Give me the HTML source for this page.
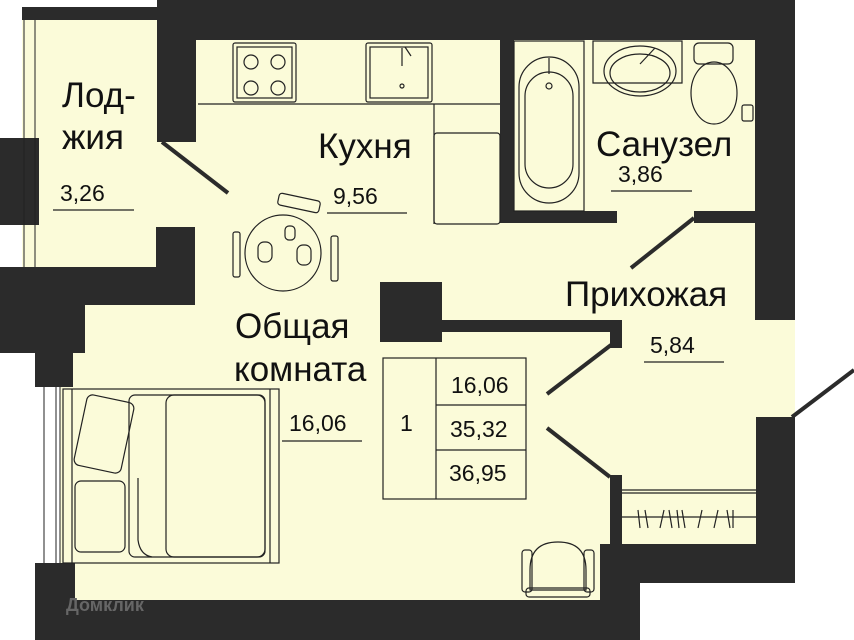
<!DOCTYPE html>
<html><head><meta charset="utf-8"><style>
html,body{margin:0;padding:0;background:#fff}
svg{display:block}
text{font-family:"Liberation Sans",sans-serif;fill:#111}
</style></head><body>
<svg width="854" height="640" viewBox="0 0 854 640" xmlns="http://www.w3.org/2000/svg">
<rect width="854" height="640" fill="#fff"/>
<!-- floors -->
<g fill="#fbfbd9">
<rect x="22" y="20" width="140" height="250"/>
<rect x="150" y="38" width="610" height="190"/>
<rect x="60" y="300" width="560" height="302"/>
<rect x="430" y="215" width="365" height="332"/>
<rect x="190" y="220" width="260" height="90"/>
</g>
<!-- walls -->
<g fill="#2b2b2b">
<rect x="22" y="7" width="140" height="13"/>
<rect x="157" y="0" width="638" height="40"/>
<rect x="157" y="0" width="39" height="142"/>
<rect x="755" y="0" width="40" height="320"/>
<rect x="0" y="138" width="39" height="87"/>
<rect x="156" y="227" width="39" height="42"/>
<rect x="0" y="267" width="195" height="38"/>
<rect x="0" y="267" width="85" height="86"/>
<rect x="35" y="353" width="38" height="34"/>
<rect x="380" y="282" width="62" height="60"/>
<rect x="380" y="320" width="242" height="12"/>
<rect x="610" y="320" width="12" height="28"/>
<rect x="500" y="40" width="14" height="183"/>
<rect x="500" y="211" width="117" height="12"/>
<rect x="694" y="211" width="73" height="12"/>
<rect x="610" y="475" width="12" height="75"/>
<rect x="756" y="417" width="39" height="166"/>
<rect x="600" y="544" width="195" height="39"/>
<rect x="600" y="544" width="40" height="96"/>
<rect x="35" y="600" width="605" height="40"/>
<rect x="35" y="563" width="40" height="77"/>
</g>
<!-- window strips -->
<g stroke="#222" stroke-width="1" fill="none">
<line x1="24" y1="20" x2="24" y2="267"/><line x1="35" y1="20" x2="35" y2="267"/>
<line x1="44" y1="387" x2="44" y2="563"/><line x1="56" y1="387" x2="56" y2="563"/><line x1="60" y1="387" x2="60" y2="563"/>
</g>
<!-- doors -->
<g stroke="#2b2b2b" stroke-width="4" stroke-linecap="butt">
<line x1="162" y1="142" x2="228" y2="193"/>
<line x1="694" y1="218" x2="631" y2="268"/>
<line x1="611" y1="345" x2="547" y2="394"/>
<line x1="547" y1="428" x2="610" y2="477"/>
<line x1="792" y1="417" x2="854" y2="370"/>
</g>
<!-- furniture -->
<g stroke="#222" stroke-width="1.2" fill="none">
<line x1="198" y1="104" x2="500" y2="104"/>
<line x1="434" y1="104" x2="434" y2="224"/>
<rect x="434" y="133" width="66" height="91" rx="3"/>
<rect x="233" y="43" width="63" height="59" rx="2"/><rect x="237" y="47" width="55" height="51"/>
<circle cx="251" cy="62" r="7"/><circle cx="278" cy="62" r="7"/><circle cx="251" cy="88" r="7"/><circle cx="278" cy="88" r="7"/>
<rect x="366" y="43" width="66" height="59" rx="2"/><rect x="370" y="47" width="58" height="51"/>
<line x1="402" y1="48" x2="402" y2="66"/><line x1="405" y1="47" x2="411" y2="56"/><circle cx="402" cy="86" r="2"/>
<circle cx="283" cy="253" r="38"/>
<rect x="285" y="226" width="10" height="14" rx="4"/>
<rect x="258" y="242" width="14" height="20" rx="6"/><rect x="297" y="245" width="14" height="20" rx="6"/>
<rect x="233" y="232" width="7" height="45" rx="2"/><rect x="331" y="236" width="7" height="45" rx="2"/>
<rect x="278" y="197" width="42" height="12" rx="3" transform="rotate(12 299 203)"/>
<rect x="514" y="41" width="70" height="170"/>
<rect x="519" y="57" width="60" height="146" rx="30"/>
<rect x="525" y="72" width="48" height="116" rx="24"/>
<circle cx="549" cy="86" r="3"/><line x1="549" y1="58" x2="549" y2="74"/>
<path d="M593 41 H682 V83 H593 Z"/>
<ellipse cx="640" cy="71" rx="36" ry="25"/><ellipse cx="640" cy="73" rx="30" ry="19"/>
<line x1="640" y1="64" x2="655" y2="48"/>
<rect x="694" y="43" width="39" height="21" rx="5"/>
<ellipse cx="714" cy="93" rx="23" ry="31"/>
<rect x="742" y="105" width="11" height="16" rx="2"/>
<rect x="63" y="389" width="216" height="174"/>
<line x1="72" y1="389" x2="72" y2="563"/><line x1="270" y1="389" x2="270" y2="563"/>
<rect x="129" y="395" width="136" height="162" rx="6"/>
<rect x="166" y="395" width="99" height="162" rx="8"/>
<path d="M138 478 V540 Q140 555 152 557"/>
<rect x="80" y="398" width="48" height="72" rx="6" transform="rotate(12 104 434)"/>
<rect x="75" y="481" width="50" height="71" rx="6"/>
<rect x="383" y="358" width="143" height="141"/>
<line x1="436" y1="358" x2="436" y2="499"/>
<line x1="436" y1="405" x2="526" y2="405"/>
<line x1="436" y1="450" x2="526" y2="450"/>
<line x1="622" y1="490" x2="756" y2="490"/><line x1="622" y1="493" x2="756" y2="493"/>
<line x1="622" y1="517" x2="756" y2="517"/>
<path d="M638 510 l2 18 M645 510 l3 18 M660 528 l4 -18 M672 528 l-3 -18 M677 510 l2 18 M682 510 l3 18 M698 528 l4 -18 M714 528 l4 -18 M727 510 l3 18 M733 510 l0 18"/>
<rect x="522" y="550" width="10" height="42" rx="3"/><rect x="584" y="550" width="10" height="42" rx="3"/>
<path d="M530 590 V570 Q530 542 558 542 Q586 542 586 570 V590 Z"/>
<rect x="526" y="588" width="64" height="9" rx="3"/>
<line x1="53" y1="210" x2="134" y2="210"/>
<line x1="327" y1="213" x2="407" y2="213"/>
<line x1="611" y1="191" x2="692" y2="191"/>
<line x1="644" y1="362" x2="724" y2="362"/>
<line x1="282" y1="441" x2="362" y2="441"/>
</g>
<g font-size="35">
<text x="62" y="107">Лод-</text>
<text x="62" y="149">жия</text>
<text x="318" y="158">Кухня</text>
<text x="596" y="156">Санузел</text>
<text x="565" y="306">Прихожая</text>
<text x="235" y="338">Общая</text>
<text x="234" y="381">комната</text>
</g>
<g font-size="23">
<text x="60" y="201">3,26</text>
<text x="333" y="204">9,56</text>
<text x="618" y="182">3,86</text>
<text x="650" y="353">5,84</text>
<text x="289" y="431">16,06</text>
<text x="400" y="431">1</text>
<text x="451" y="393">16,06</text>
<text x="450" y="437">35,32</text>
<text x="449" y="481">36,95</text>
</g>
<text x="66" y="611" font-size="18" font-weight="bold" style="fill:#666">Домклик</text>
</svg>
</body></html>
